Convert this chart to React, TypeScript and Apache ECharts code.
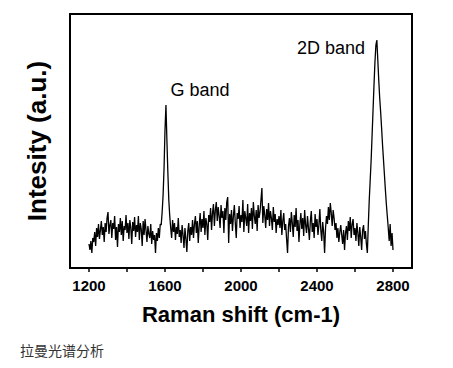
import React, { useEffect, useRef } from "react";
import * as echarts from "echarts";

// Raman spectrum: intensity (a.u.) sampled every 5 cm-1 from 1200 cm-1
const shiftStart = 1200;
const shiftStep = 5;
const intensity = [
  24, 18, 27, 15, 30, 26, 36, 22, 40, 31,
  44, 29, 38, 47, 33, 41, 26, 45, 36, 50,
  56, 34, 43, 48, 30, 45, 39, 52, 28, 41,
  21, 44, 36, 50, 33, 47, 27, 42, 38, 53,
  35, 45, 29, 48, 40, 24, 46, 37, 51, 31,
  43, 36, 52, 28, 45, 39, 22, 47, 33, 49,
  38, 26, 42, 34, 30, 44, 24, 37, 28, 33,
  15, 35, 27, 40, 30, 44, 43, 56, 73, 100,
  138, 163, 128, 96, 68, 52, 40, 30, 48, 36,
  45, 28, 41, 34, 50, 31, 38, 25, 43, 33,
  20, 40, 29, 16, 37, 45, 27, 41, 33, 48,
  30, 44, 52, 35, 47, 25, 42, 55, 36, 49,
  40, 57, 33, 50, 44, 28, 53, 46, 60, 38,
  55, 64, 42, 58, 66, 47, 61, 52, 40, 63,
  50, 57, 35, 60, 48, 66, 71, 25, 54, 44,
  58, 37, 52, 63, 45, 30, 55, 49, 62, 40,
  53, 46, 68, 36, 57, 50, 42, 64, 35, 55,
  47, 60, 39, 66, 52, 44, 58, 37, 63, 50,
  56, 68, 80, 45, 62, 53, 40, 59, 48, 65,
  42, 57, 50, 38, 61, 46, 54, 35, 49, 43,
  52, 40, 58, 33, 47, 55, 38, 44, 29, 15,
  42, 50, 36, 56, 45, 31, 53, 41, 60, 37,
  48, 26, 44, 55, 39, 50, 32, 58, 43, 35,
  52, 40, 28, 47, 57, 36, 45, 30, 54, 41,
  49, 33, 43, 59, 38, 27, 46, 36, 15, 40,
  52, 44, 61, 48, 65, 55, 42, 58, 50, 38,
  45, 30, 40, 26, 36, 43, 33, 24, 38, 18,
  35, 42, 28, 47, 37, 51, 30, 44, 49, 33,
  40, 27, 45, 35, 22, 41, 31, 18, 38, 43,
  29, 37, 24, 15, 43, 68, 88, 108, 133, 158,
  183, 206, 223, 228, 208, 188, 170, 156, 140, 123,
  108, 93, 78, 64, 52, 40, 27, 44, 22, 35,
  18,
];

const xLabelValues = [1200, 1600, 2000, 2400, 2800];
const xTickValues = [1200, 1400, 1600, 1800, 2000, 2200, 2400, 2600, 2800];
const xRange = [1100, 2900];
const yRange = [0, 254];

const xTitle = "Raman shift (cm-1)";
const yTitle = "Intesity (a.u.)";
const bandNames = ["G band", "2D band"];
const caption = "拉曼光谱分析";

const FONT = "'Liberation Sans', Arial, sans-serif";

export default function App() {
  const ref = useRef<HTMLDivElement>(null);

  useEffect(() => {
    if (!ref.current) return;
    const chart = echarts.init(ref.current, null, { renderer: "svg" });
    const data = intensity.map((v, i) => [shiftStart + shiftStep * i, v]);

    chart.setOption({
      animation: false,
      backgroundColor: "#fff",
      grid: {
        left: 70,
        right: 41,
        top: 14,
        bottom: 100,
        show: true,
        borderColor: "#000",
        borderWidth: 2,
        backgroundColor: "transparent",
      },
      xAxis: {
        type: "value",
        min: xRange[0],
        max: xRange[1],
        name: xTitle,
        nameLocation: "middle",
        nameGap: 35,
        nameTextStyle: {
          fontFamily: FONT,
          fontSize: 22,
          fontWeight: "bold",
          color: "#000",
        },
        axisLine: { show: false },
        splitLine: { show: false },
        axisTick: {
          show: true,
          inside: false,
          length: 4,
          customValues: xTickValues,
          lineStyle: { color: "#000", width: 1.5 },
        },
        axisLabel: {
          customValues: xLabelValues,
          formatter: (v: number) => String(v),
          margin: 10,
          fontFamily: FONT,
          fontSize: 15,
          fontWeight: "bold",
          color: "#000",
        },
      },
      yAxis: {
        type: "value",
        min: yRange[0],
        max: yRange[1],
        name: yTitle,
        nameLocation: "middle",
        nameRotate: 90,
        nameGap: 20,
        nameTextStyle: {
          fontFamily: FONT,
          fontSize: 26,
          fontWeight: "bold",
          color: "#000",
        },
        axisLine: { show: false },
        axisTick: { show: false },
        axisLabel: { show: false },
        splitLine: { show: false },
      },
      series: [
        {
          type: "line",
          data,
          showSymbol: false,
          symbol: "none",
          lineStyle: { color: "#000", width: 1.3 },
        },
      ],
      graphic: [
        {
          type: "text",
          x: 200,
          y: 90,
          style: {
            text: bandNames[0],
            fontFamily: FONT,
            fontSize: 18,
            fill: "#000",
            align: "center",
            verticalAlign: "middle",
          },
        },
        {
          type: "text",
          x: 331,
          y: 48,
          style: {
            text: bandNames[1],
            fontFamily: FONT,
            fontSize: 18,
            fill: "#000",
            align: "center",
            verticalAlign: "middle",
          },
        },
        {
          type: "text",
          x: 20,
          y: 350,
          style: {
            text: caption,
            fontFamily: "'Noto Sans CJK SC', sans-serif",
            fontSize: 14,
            fill: "#333",
            align: "left",
            verticalAlign: "middle",
          },
        },
      ],
    });

    return () => chart.dispose();
  }, []);

  return (
    <div
      ref={ref}
      style={{ position: "absolute", left: 0, top: 0, width: 453, height: 368 }}
    />
  );
}
